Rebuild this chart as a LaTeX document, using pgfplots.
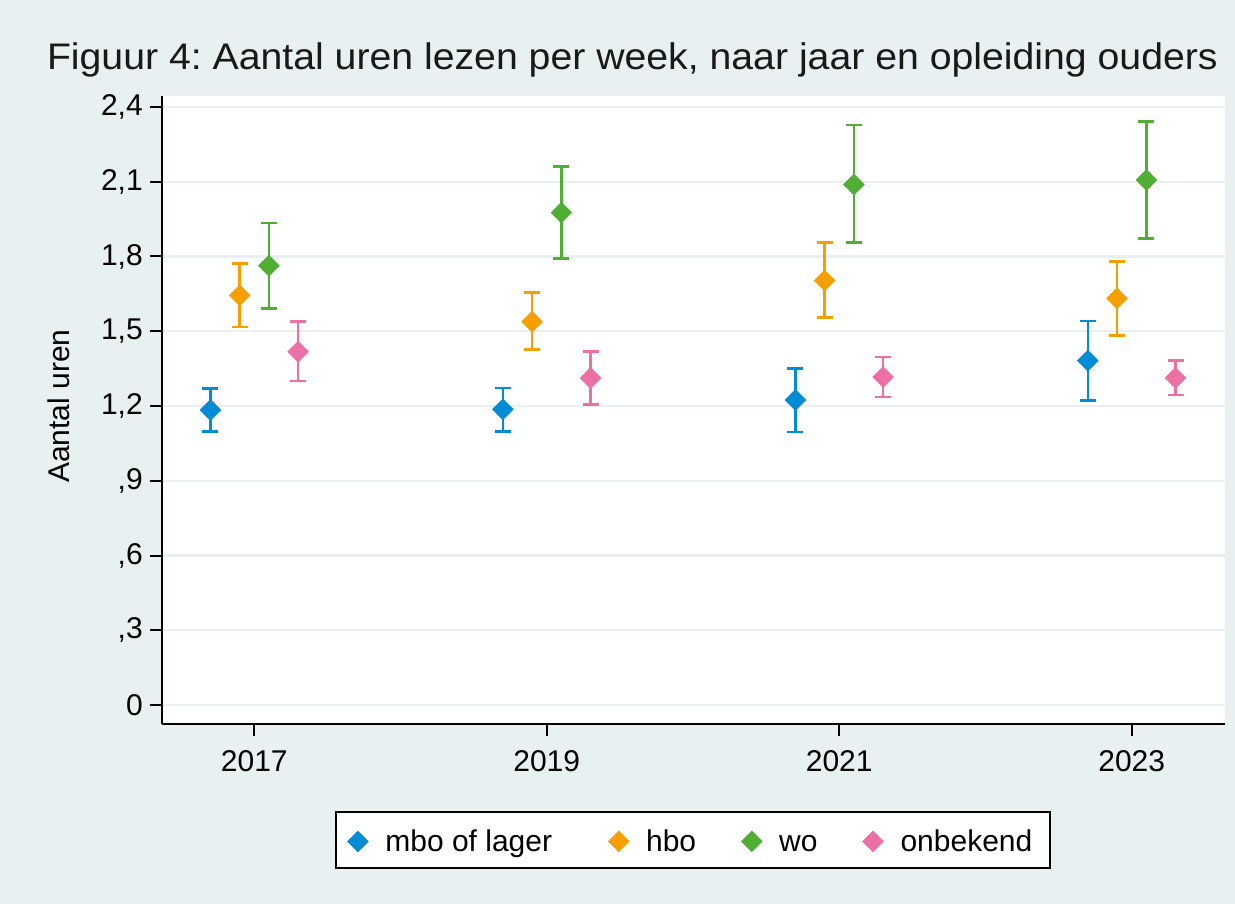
\documentclass[border=0pt]{standalone}
\usepackage{fontspec}
\setmainfont{Liberation Sans}
\usepackage{pgfplots}
\pgfplotsset{compat=1.18}

\definecolor{bgc}{RGB}{232,240,242}
\definecolor{gridc}{RGB}{232,240,242}
\definecolor{cmbo}{RGB}{2,140,214}
\definecolor{chbo}{RGB}{245,160,0}
\definecolor{cwo}{RGB}{80,175,50}
\definecolor{conb}{RGB}{236,112,166}

\pgfplotsset{
  ebar/.style={only marks, color=#1, mark=square*, mark size=3.7pt,
    mark options={rotate=45, fill=#1, draw=#1, line width=0.2pt},
    error bars/y dir=both, error bars/y explicit,
    error bars/error mark=|,
    error bars/error bar style={line width=1.3pt, color=#1},
    error bars/error mark options={line width=1.3pt, color=#1, mark size=4pt}},
}

\begin{document}
\frenchspacing
\begin{tikzpicture}
\useasboundingbox (0pt,0pt) rectangle (617.5pt,452pt);
\fill[bgc] (0pt,0pt) rectangle (617.5pt,452pt);
\node[anchor=base, font=\fontsize{18.5}{22}\selectfont, text=black!90, xscale=1.06]
  at (316.2pt,417.35pt) {Figuur 4: Aantal uren lezen per week, naar jaar en opleiding ouders};
\node[rotate=90, anchor=base, font=\fontsize{15}{18}\selectfont]
  at (35pt,249pt) {Aantal uren};

\begin{axis}[
  at={(80.85pt,90pt)}, anchor=south west,
  scale only axis, width=531.65pt, height=314pt,
  xmin=2016.367, xmax=2023.638, ymin=-0.076, ymax=2.444,
  axis background/.style={fill=white},
  axis x line*=bottom, axis y line*=left,
  axis line style={-, line width=1pt, black},
  tick align=outside, major tick length=6pt,
  tick style={black, line width=1pt},
  xtick={2017,2019,2021,2023},
  xticklabels={2017,2019,2021,2023},
  xticklabel style={yshift=-3.5pt},
  ytick={0,0.3,0.6,0.9,1.2,1.5,1.8,2.1,2.4},
  yticklabels={0,{,3},{,6},{,9},{1,2},{1,5},{1,8},{2,1},{2,4}},
  tick label style={font=\fontsize{15}{18}\selectfont},
  ymajorgrids, major grid style={color=gridc, line width=1.2pt},
  legend columns=4,
  legend image code/.code={\draw[#1] plot coordinates {(5.25pt,5.3pt)}; \path (0pt,0pt) (10.5pt,0pt);},
  legend style={at={(axis description cs:0.5,-0.1385)}, anchor=north,
    draw=black, line width=1pt, fill=white, inner xsep=5pt, inner ysep=7pt,
    font=\fontsize{15}{18}\selectfont,
    nodes={inner sep=0pt, text height=13pt, text depth=1.2pt, anchor=base west},
    /tikz/every odd column/.append style={column sep=8pt},
    /tikz/every even column/.append style={column sep=22pt}},
  legend cell align=left,
]
% mbo of lager
\addplot[ebar=cmbo] coordinates {
  (2016.7,1.184) += (0,0.087) -= (0,0.087)
  (2018.7,1.187) += (0,0.085) -= (0,0.090)
  (2020.7,1.224) += (0,0.126) -= (0,0.128)
  (2022.7,1.382) += (0,0.159) -= (0,0.159)
};
% hbo
\addplot[ebar=chbo] coordinates {
  (2016.9,1.644) += (0,0.128) -= (0,0.127)
  (2018.9,1.538) += (0,0.118) -= (0,0.111)
  (2020.9,1.704) += (0,0.153) -= (0,0.148)
  (2022.9,1.632) += (0,0.147) -= (0,0.150)
};
% wo
\addplot[ebar=cwo] coordinates {
  (2017.1,1.763) += (0,0.172) -= (0,0.171)
  (2019.1,1.976) += (0,0.184) -= (0,0.184)
  (2021.1,2.089) += (0,0.238) -= (0,0.232)
  (2023.1,2.107) += (0,0.235) -= (0,0.234)
};
% onbekend
\addplot[ebar=conb] coordinates {
  (2017.3,1.418) += (0,0.120) -= (0,0.118)
  (2019.3,1.312) += (0,0.107) -= (0,0.107)
  (2021.3,1.316) += (0,0.080) -= (0,0.080)
  (2023.3,1.313) += (0,0.070) -= (0,0.069)
};
\legend{mbo of lager\rule{5.5pt}{0pt}, hbo, wo, onbekend\rule{4pt}{0pt}}
\end{axis}
\end{tikzpicture}
\end{document}
